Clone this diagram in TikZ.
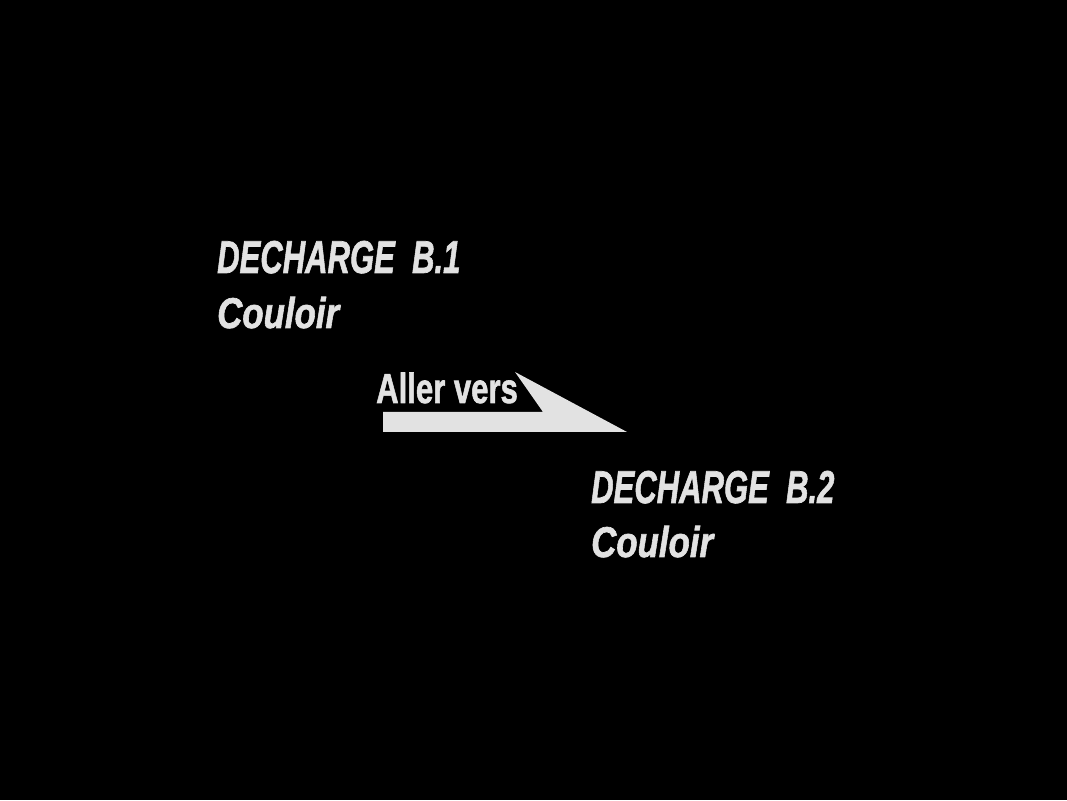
\documentclass[tikz,border=0pt]{standalone}
\usepackage{fontspec}
\setmainfont{Liberation Sans}
\newfontfamily\heavyfont[FakeBold=1.6]{Liberation Sans}
\definecolor{txt}{HTML}{E2E2E2}
\tikzset{
  lbl/.style={text=txt, inner sep=0pt, anchor=base west, font=\heavyfont\bfseries\itshape},
  lblup/.style={text=txt, inner sep=0pt, anchor=base west, font=\heavyfont\bfseries},
  arrowshape/.style={fill=txt, draw=none}
}
\begin{document}
\begin{tikzpicture}[x=1pt,y=1pt]
\fill[black] (0,0) rectangle (1067,800);
\useasboundingbox (0,0) rectangle (1067,800);
\node[lbl] (d1) at (217,527) {\fontsize{46}{50}\selectfont\scalebox{0.675}[1]{DECHARGE\ \ B.1}};
\node[lbl] (c1) at (217,472) {\fontsize{43}{48}\selectfont\scalebox{0.81}[1]{Couloir}};
\node[lblup] (av) at (376,397) {\fontsize{42}{46}\selectfont\scalebox{0.74}[1]{Aller vers}};
\fill[arrowshape] (383,388) -- (543,388) -- (515,428) -- (627,368) -- (383,368) -- cycle;
\node[lbl] (d2) at (591,297) {\fontsize{46}{50}\selectfont\scalebox{0.675}[1]{DECHARGE\ \ B.2}};
\node[lbl] (c2) at (591,243) {\fontsize{43}{48}\selectfont\scalebox{0.81}[1]{Couloir}};
\end{tikzpicture}
\end{document}
